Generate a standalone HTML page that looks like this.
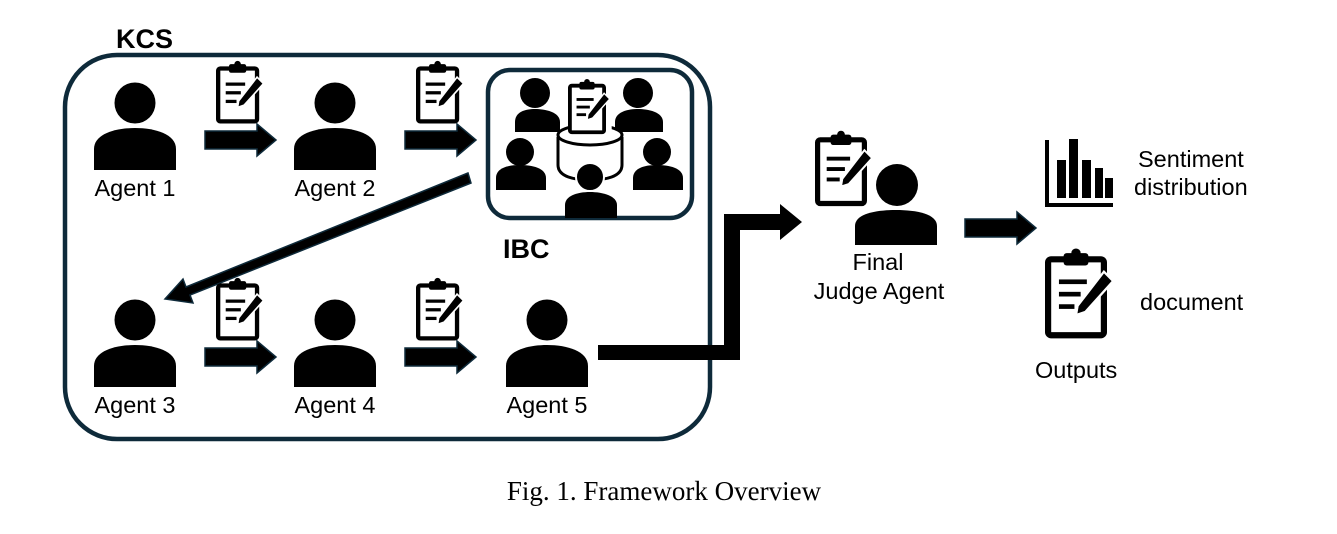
<!DOCTYPE html>
<html><head><meta charset="utf-8"><style>
html,body{margin:0;padding:0;background:#fff}
svg{display:block}
text{font-family:"Liberation Sans",sans-serif;fill:#000}
</style></head><body>
<svg width="1337" height="534" viewBox="0 0 1337 534" xmlns="http://www.w3.org/2000/svg">
<defs>
<g id="person">
<circle cx="0" cy="0" r="20.5" fill="#000"/>
<path d="M-41,67 V46 C-41,31 -20,25 0,25 C20,25 41,31 41,46 V67 Z" fill="#000"/>
</g>
<g id="clip">
<rect x="2" y="6" width="36" height="49" rx="2" fill="none" stroke="#000" stroke-width="4"/>
<rect x="12" y="2" width="16" height="8" rx="2" fill="#000"/>
<circle cx="20" cy="2" r="3" fill="#000"/>
<rect x="9" y="19" width="18" height="3" fill="#000"/>
<rect x="9" y="27" width="14" height="3" fill="#000"/>
<rect x="9" y="35" width="10" height="3" fill="#000"/>
<path d="M38,14 L44,20 L26,40 L20,42 L21,36 Z" fill="#000" stroke="#fff" stroke-width="1.5"/>
</g>
<g id="arr">
<path d="M0,7 H52 V0 L71,16 L52,32 V25 H0 Z" fill="#000" stroke="#0e2a3a" stroke-width="1.5"/>
</g>
</defs>

<rect x="65" y="55" width="645" height="384" rx="52" fill="none" stroke="#0e2a3a" stroke-width="4.5"/>
<text x="116" y="48" font-size="27" font-weight="bold">KCS</text>
<rect x="488" y="70" width="204" height="148" rx="22" fill="none" stroke="#0e2a3a" stroke-width="4.5"/>
<text x="503" y="258" font-size="27" font-weight="bold">IBC</text>

<use href="#person" x="135" y="103"/>
<use href="#person" x="335" y="103"/>
<text x="135" y="196" font-size="23.5" text-anchor="middle">Agent 1</text>
<text x="335" y="196" font-size="23.5" text-anchor="middle">Agent 2</text>
<g transform="translate(216,62) scale(1.08)"><use href="#clip"/></g>
<g transform="translate(416,62) scale(1.08)"><use href="#clip"/></g>
<use href="#arr" x="205" y="124"/>
<use href="#arr" x="405" y="124"/>

<g transform="translate(480,60)">
<circle cx="55" cy="33" r="15" fill="#000"/>
<path d="M35,72 V62 C35,52 45,49 55,49 C65,49 80,52 80,62 V72 Z" fill="#000"/>
<circle cx="158" cy="33" r="15" fill="#000"/>
<path d="M135,72 V62 C135,52 148,49 158,49 C168,49 183,52 183,62 V72 Z" fill="#000"/>
<circle cx="40" cy="92" r="14" fill="#000"/>
<path d="M16,130 V118 C16,108 28,105 40,105 C52,105 66,108 66,118 V130 Z" fill="#000"/>
<circle cx="177" cy="92" r="14" fill="#000"/>
<path d="M153,130 V118 C153,108 165,105 177,105 C189,105 203,108 203,118 V130 Z" fill="#000"/>
<path d="M78,77 V105 C78,117 95,120 110,120 C125,120 142,117 142,105 V77" fill="#fff" stroke="#000" stroke-width="3"/>
<ellipse cx="110" cy="75" rx="32" ry="10" fill="#fff" stroke="#000" stroke-width="3"/>
<g transform="translate(88,20) scale(0.95)"><rect x="0" y="0" width="46" height="58" fill="#fff"/><use href="#clip"/></g>
<circle cx="110" cy="117" r="14" fill="#000" stroke="#fff" stroke-width="2"/>
<path d="M85,158 V145 C85,136 97,132 110,132 C123,132 137,136 137,145 V158 Z" fill="#000"/>
</g>

<path d="M468,173 L186,287 L183,279 L165,299 L193,303 L190,295 L471,183 Z" fill="#000" stroke="#0e2a3a" stroke-width="1.5"/>

<use href="#person" x="135" y="320"/>
<use href="#person" x="335" y="320"/>
<use href="#person" x="547" y="320"/>
<text x="135" y="413" font-size="23.5" text-anchor="middle">Agent 3</text>
<text x="335" y="413" font-size="23.5" text-anchor="middle">Agent 4</text>
<text x="547" y="413" font-size="23.5" text-anchor="middle">Agent 5</text>
<g transform="translate(216,279) scale(1.08)"><use href="#clip"/></g>
<g transform="translate(416,279) scale(1.08)"><use href="#clip"/></g>
<use href="#arr" x="205" y="341"/>
<use href="#arr" x="405" y="341"/>

<path d="M598,345 H724 V214 H780 V204 L802,222 L780,240 V230 H740 V360 H598 Z" fill="#000"/>

<g transform="translate(815,132) scale(1.3)"><use href="#clip"/></g>
<circle cx="897" cy="185" r="21" fill="#000"/>
<path d="M855,245 V226 C855,214 875,210 896,210 C917,210 937,214 937,226 V245 Z" fill="#000"/>
<text x="878" y="270" font-size="23.5" text-anchor="middle">Final</text>
<text x="879" y="299" font-size="23.5" text-anchor="middle">Judge Agent</text>

<use href="#arr" x="965" y="212"/>

<path d="M1047,140 V205 H1113" fill="none" stroke="#000" stroke-width="4"/>
<rect x="1057" y="160" width="9" height="38" fill="#000"/>
<rect x="1069" y="139" width="9" height="59" fill="#000"/>
<rect x="1082" y="160" width="9" height="38" fill="#000"/>
<rect x="1095" y="168" width="8" height="30" fill="#000"/>
<rect x="1105" y="178" width="8" height="20" fill="#000"/>
<text x="1138" y="167" font-size="23.5">Sentiment</text>
<text x="1134" y="195" font-size="23.5">distribution</text>

<g transform="translate(1045,250) scale(1.55)"><use href="#clip"/></g>
<text x="1140" y="310" font-size="23.5">document</text>
<text x="1035" y="378" font-size="23.5">Outputs</text>

<text x="664" y="500" font-size="27" text-anchor="middle" style="font-family:'Liberation Serif',serif">Fig. 1.  Framework Overview</text>
</svg>
</body></html>
